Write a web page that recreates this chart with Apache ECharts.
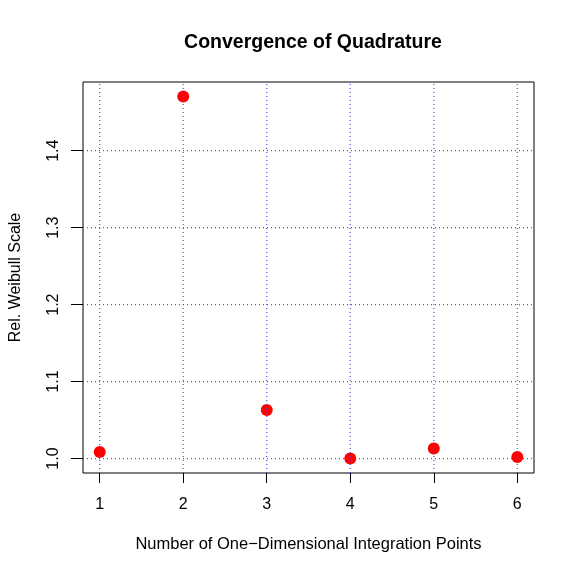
<!DOCTYPE html>
<html>
<head>
<meta charset="utf-8">
<script src="https://cdn.jsdelivr.net/npm/echarts@6/dist/echarts.min.js"></script>
<style>
  html, body { margin: 0; padding: 0; background: #fff; }
  #chart { width: 577px; height: 575px; }
</style>
</head>
<body>
<div id="chart"></div>
<script>
// 积分点数与相对 Weibull 尺度
const points = [1, 2, 3, 4, 5, 6]
const relScale = [1.0086, 1.4705, 1.063, 1.0, 1.013, 1.002]
const xTicks = [1, 2, 3, 4, 5, 6]
const yTicks = [1.0, 1.1, 1.2, 1.3, 1.4]

const font = 'Liberation Sans'
const X_MIN = 0.8
const X_MAX = 6.2
const Y_MIN = 0.9812
const Y_MAX = 1.4893
const seriesData = points.map((p, i) => [p, relScale[i]])

// 网格线画在点的上面（和 R 的 grid() 一样），每条一个 line series
function gridSeries(data) {
  return {
    type: 'line',
    data: data,
    symbol: 'none',
    silent: true,
    z: 5,
    itemStyle: { color: '#4d4dff' },
    lineStyle: { color: '#4d4dff', type: [1, 3], width: 1.2, cap: 'butt' }
  }
}
const gridLines = xTicks.map((v) => gridSeries([[v, Y_MIN], [v, Y_MAX]]))
  .concat(yTicks.map((v) => gridSeries([[X_MIN, v], [X_MAX, v]])))

const chart = echarts.init(document.getElementById('chart'))
chart.setOption({
  animation: false,
  backgroundColor: '#fff',
  title: {
    text: 'Convergence of Quadrature',
    left: 308,
    top: 28,
    textAlign: 'center',
    textStyle: { fontFamily: font, fontSize: 19.5, fontWeight: 'bold', color: '#000' }
  },
  grid: {
    left: 82,
    top: 82,
    right: 43,
    bottom: 102,
    show: true,
    borderColor: '#000',
    borderWidth: 1
  },
  xAxis: {
    type: 'value',
    min: X_MIN,
    max: X_MAX,
    name: 'Number of One\u2212Dimensional Integration Points',
    nameLocation: 'middle',
    nameGap: 63,
    nameTextStyle: { fontFamily: font, fontSize: 16.5, color: '#000' },
    axisLine: { show: false },
    splitLine: { show: false },
    axisTick: { show: true, length: 10, customValues: xTicks, lineStyle: { color: '#000' } },
    axisLabel: {
      customValues: xTicks,
      margin: 24,
      fontFamily: font,
      fontSize: 16,
      color: '#000'
    }
  },
  yAxis: {
    type: 'value',
    min: Y_MIN,
    max: Y_MAX,
    name: 'Rel. Weibull Scale',
    nameLocation: 'middle',
    nameGap: 59,
    nameTextStyle: { fontFamily: font, fontSize: 16, color: '#000' },
    axisLine: { show: false },
    splitLine: { show: false },
    axisTick: { show: true, length: 12, customValues: yTicks, lineStyle: { color: '#000' } },
    axisLabel: {
      customValues: yTicks,
      rotate: 90,
      margin: 21,
      fontFamily: font,
      fontSize: 16,
      color: '#000',
      formatter: (v) => v.toFixed(1)
    }
  },
  series: [
    {
      type: 'scatter',
      data: seriesData,
      symbol: 'circle',
      symbolSize: 12,
      z: 3,
      itemStyle: { color: '#ff0000', opacity: 1 }
    }
  ].concat(gridLines)
})
</script>
</body>
</html>
